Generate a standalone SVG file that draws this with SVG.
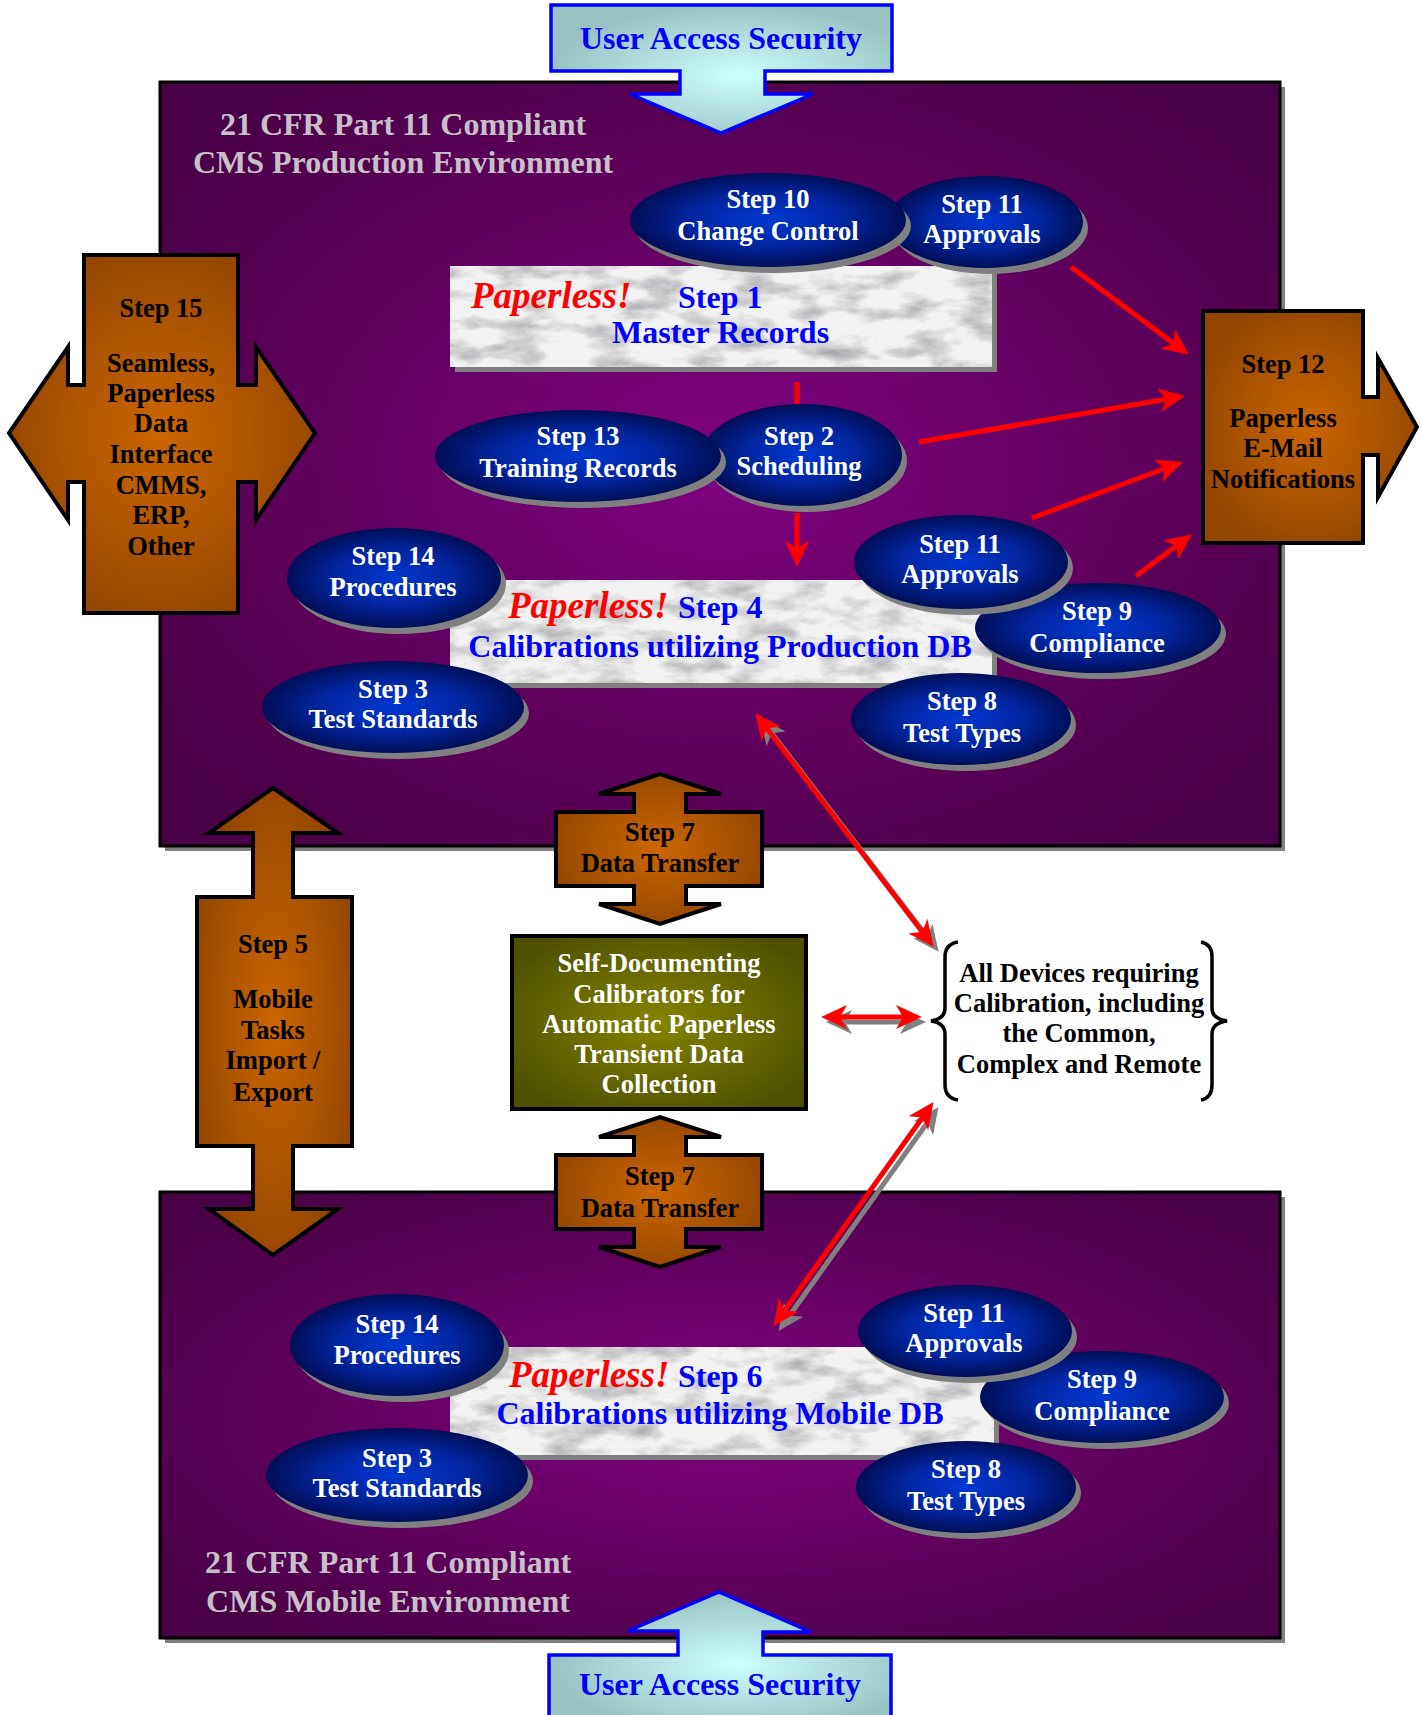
<svg xmlns="http://www.w3.org/2000/svg" width="1422" height="1715" viewBox="0 0 1422 1715">
<style>
.t{font-family:"Liberation Serif","Times New Roman",serif;font-weight:bold;text-anchor:middle}
.w{fill:#FFFFFF;font-size:26.5px}
.k{fill:#000000;font-size:26.5px}
.ttl{fill:#C8C0C8;font-size:32px}
.bl{fill:#0000FF;font-size:32px}
.rd{fill:#FF0000;font-size:37px;font-style:italic}
.ell{fill:url(#blueG)}
.sh{fill:#808080}
.org{fill:url(#orangeG);stroke:#000;stroke-width:4;stroke-linejoin:miter}
.panel{fill:url(#purpleG);stroke:#000;stroke-width:3}
.uas{fill:url(#cyanG);stroke:#0000FF;stroke-width:3.5}
.marble{filter:url(#marble)}
.conn{stroke:#FF0000;stroke-width:5;fill:none}
.connsh{stroke:#808080;stroke-width:5;fill:none}
.brace{stroke:#000;stroke-width:3.5;fill:none}
</style>
<defs>
<radialGradient id="blueG" cx="0.5" cy="0.5" r="0.5">
<stop offset="0" stop-color="#0038D2"/>
<stop offset="0.55" stop-color="#0026A0"/>
<stop offset="1" stop-color="#000F58"/>
</radialGradient>
<radialGradient id="purpleG" cx="0.5" cy="0.5" r="0.62">
<stop offset="0" stop-color="#800080"/>
<stop offset="1" stop-color="#4A0046"/>
</radialGradient>
<radialGradient id="orangeG" cx="0.5" cy="0.5" r="0.55">
<stop offset="0" stop-color="#CC6600"/>
<stop offset="1" stop-color="#934600"/>
</radialGradient>
<radialGradient id="greenG" cx="0.5" cy="0.5" r="0.6">
<stop offset="0" stop-color="#848400"/>
<stop offset="1" stop-color="#4E5000"/>
</radialGradient>
<radialGradient id="cyanG" cx="0.55" cy="0.55" r="0.55">
<stop offset="0" stop-color="#CCFFFF"/>
<stop offset="1" stop-color="#99C2C2"/>
</radialGradient>
<filter id="marble" x="0" y="0" width="1" height="1" filterUnits="objectBoundingBox" color-interpolation-filters="sRGB">
<feTurbulence type="fractalNoise" baseFrequency="0.022 0.05" numOctaves="5" seed="11" result="t"/>
<feColorMatrix in="t" type="matrix" values="0 0 0 0 0.5  0 0 0 0 0.5  0 0 0 0 0.52  1.4 0 0 0 -0.62" result="veins"/>
<feFlood flood-color="#F2F2F2" result="bg"/>
<feComposite in="veins" in2="bg" operator="over"/>
</filter>
<marker id="ah" viewBox="0 0 26 24" refX="20" refY="12" markerWidth="26" markerHeight="24" markerUnits="userSpaceOnUse" orient="auto-start-reverse">
<path d="M0,0 L26,12 L0,24 L7,12 Z" fill="#FF0000"/>
</marker>
<marker id="ahs" viewBox="0 0 26 24" refX="20" refY="12" markerWidth="26" markerHeight="24" markerUnits="userSpaceOnUse" orient="auto-start-reverse">
<path d="M0,0 L26,12 L0,24 L7,12 Z" fill="#808080"/>
</marker>
</defs>

<rect width="1422" height="1715" fill="#FFFFFF"/>

<g id="production-panel">
<rect class="sh" x="165" y="87" width="1120" height="764"/>
<rect class="panel" x="160" y="82" width="1120" height="764"/>
<text class="t ttl" x="403" y="135">21 CFR Part 11 Compliant</text>
<text class="t ttl" x="403" y="173">CMS Production Environment</text>
</g>

<g id="mobile-panel">
<rect class="sh" x="165" y="1197" width="1120" height="446"/>
<rect class="panel" x="160" y="1192" width="1120" height="446"/>
<text class="t ttl" x="388" y="1573">21 CFR Part 11 Compliant</text>
<text class="t ttl" x="388" y="1612">CMS Mobile Environment</text>
</g>

<g id="user-access-top">
<path class="uas" d="M551,5 H892 V71 H765 V94 H813 L721,133 L630,94 H680 V71 H551 Z"/>
<text class="t bl" x="721" y="49">User Access Security</text>
</g>

<g id="user-access-bottom">
<path class="uas" d="M549,1722 V1655 H678 V1631 H628 L719,1592 L811,1632 H763 V1655 H891 V1722 Z"/>
<text class="t bl" x="720" y="1695">User Access Security</text>
</g>

<g id="step1">
<rect class="sh" x="455" y="271" width="542" height="101"/>
<rect class="marble" x="450" y="266" width="542" height="101"/>
<text class="t rd" x="471" y="308" style="text-anchor:start">Paperless!</text>
<text class="t bl" x="678" y="308" style="text-anchor:start">Step 1</text>
<text class="t bl" x="612" y="343" style="text-anchor:start">Master Records</text>
</g>

<g id="step11-top">
<ellipse class="sh" cx="990" cy="228" rx="98" ry="46"/>
<ellipse class="ell" cx="985" cy="222" rx="98" ry="46"/>
<text class="t w" x="982" y="213">Step 11</text>
<text class="t w" x="982" y="243">Approvals</text>
</g>

<g id="step10">
<ellipse class="sh" cx="773" cy="226" rx="138" ry="47"/>
<ellipse class="ell" cx="768" cy="220" rx="138" ry="47"/>
<text class="t w" x="768" y="208">Step 10</text>
<text class="t w" x="768" y="240">Change Control</text>
</g>

<g id="step2">
<ellipse class="sh" cx="807" cy="461" rx="100" ry="51"/>
<ellipse class="ell" cx="802" cy="455" rx="100" ry="51"/>
<text class="t w" x="799" y="445">Step 2</text>
<text class="t w" x="799" y="475">Scheduling</text>
</g>

<g id="step13">
<ellipse class="sh" cx="583" cy="462" rx="143" ry="46"/>
<ellipse class="ell" cx="578" cy="456" rx="143" ry="46"/>
<text class="t w" x="578" y="445">Step 13</text>
<text class="t w" x="578" y="477">Training Records</text>
</g>

<g id="step4">
<rect class="sh" x="455" y="585" width="542" height="103"/>
<rect class="marble" x="450" y="580" width="542" height="103"/>
<text class="t rd" x="508" y="618" style="text-anchor:start">Paperless!</text>
<text class="t bl" x="678" y="618" style="text-anchor:start">Step 4</text>
<text class="t bl" x="720" y="657">Calibrations utilizing Production DB</text>
</g>

<g id="step14-top">
<ellipse class="sh" cx="399" cy="584" rx="107" ry="50"/>
<ellipse class="ell" cx="394" cy="578" rx="107" ry="50"/>
<text class="t w" x="393" y="565">Step 14</text>
<text class="t w" x="393" y="596">Procedures</text>
</g>

<g id="step3-top">
<ellipse class="sh" cx="398" cy="713" rx="131" ry="46"/>
<ellipse class="ell" cx="393" cy="707" rx="131" ry="46"/>
<text class="t w" x="393" y="698">Step 3</text>
<text class="t w" x="393" y="728">Test Standards</text>
</g>

<g id="step8-top">
<ellipse class="sh" cx="966" cy="725" rx="110" ry="46"/>
<ellipse class="ell" cx="961" cy="719" rx="110" ry="46"/>
<text class="t w" x="962" y="710">Step 8</text>
<text class="t w" x="962" y="742">Test Types</text>
</g>

<g id="step9-top">
<ellipse class="sh" cx="1103" cy="634" rx="123" ry="45"/>
<ellipse class="ell" cx="1098" cy="628" rx="123" ry="45"/>
<text class="t w" x="1097" y="620">Step 9</text>
<text class="t w" x="1097" y="652">Compliance</text>
</g>

<g id="step11-mid">
<ellipse class="sh" cx="966" cy="568" rx="107" ry="47"/>
<ellipse class="ell" cx="961" cy="562" rx="107" ry="47"/>
<text class="t w" x="960" y="553">Step 11</text>
<text class="t w" x="960" y="583">Approvals</text>
</g>

<g id="step15">
<path class="org" d="M84,255 H238 V385 H256 V347 L315,433 L256,520 V482 H238 V613 H84 V482 H68 V520 L9,433 L68,347 V385 H84 Z"/>
<text class="t k" x="161" y="317">Step 15</text>
<text class="t k" x="161" y="372">Seamless,</text>
<text class="t k" x="161" y="402">Paperless</text>
<text class="t k" x="161" y="432">Data</text>
<text class="t k" x="161" y="463">Interface</text>
<text class="t k" x="161" y="494">CMMS,</text>
<text class="t k" x="161" y="524">ERP,</text>
<text class="t k" x="161" y="555">Other</text>
</g>

<g id="step12">
<path class="org" d="M1203,311 H1363 V397 H1378 V358 L1417,427 L1378,497 V455 H1363 V543 H1203 Z"/>
<text class="t k" x="1283" y="373">Step 12</text>
<text class="t k" x="1283" y="427">Paperless</text>
<text class="t k" x="1283" y="457">E-Mail</text>
<text class="t k" x="1283" y="488">Notifications</text>
</g>

<g id="step5">
<path class="org" d="M197,897 H253 V833 H209 L273,788 L338,833 H293 V897 H352 V1146 H293 V1209 H338 L273,1255 L209,1209 H253 V1146 H197 Z"/>
<text class="t k" x="273" y="953">Step 5</text>
<text class="t k" x="273" y="1008">Mobile</text>
<text class="t k" x="273" y="1039">Tasks</text>
<text class="t k" x="273" y="1069">Import /</text>
<text class="t k" x="273" y="1101">Export</text>
</g>

<g id="step7-top">
<path class="org" d="M556,812 H634 V794 H599 L660,774 L721,794 H686 V812 H762 V886 H686 V904 H721 L660,924 L599,904 H634 V886 H556 Z"/>
<text class="t k" x="660" y="841">Step 7</text>
<text class="t k" x="660" y="872">Data Transfer</text>
</g>

<g id="calibrators">
<rect x="512" y="936" width="294" height="173" fill="url(#greenG)" stroke="#000" stroke-width="4"/>
<text class="t w" x="659" y="972">Self-Documenting</text>
<text class="t w" x="659" y="1003">Calibrators for</text>
<text class="t w" x="659" y="1033">Automatic Paperless</text>
<text class="t w" x="659" y="1063">Transient Data</text>
<text class="t w" x="659" y="1093">Collection</text>
</g>

<g id="step7-bottom">
<path class="org" d="M556,1155 H634 V1137 H599 L660,1117 L721,1137 H686 V1155 H762 V1229 H686 V1247 H721 L660,1267 L599,1247 H634 V1229 H556 Z"/>
<text class="t k" x="660" y="1185">Step 7</text>
<text class="t k" x="660" y="1217">Data Transfer</text>
</g>

<g id="all-devices">
<path class="brace" d="M958,942 Q945,944 945,957 V1008 Q945,1019 931,1021 Q945,1023 945,1034 V1085 Q945,1098 958,1100"/>
<path class="brace" d="M1201,942 Q1212,944 1212,957 V1008 Q1212,1019 1227,1021 Q1212,1023 1212,1034 V1085 Q1212,1098 1201,1100"/>
<text class="t k" x="1079" y="982">All Devices requiring</text>
<text class="t k" x="1079" y="1012">Calibration, including</text>
<text class="t k" x="1079" y="1042">the Common,</text>
<text class="t k" x="1079" y="1073">Complex and Remote</text>
</g>

<g id="step6">
<rect class="sh" x="455" y="1352" width="544" height="108"/>
<rect class="marble" x="450" y="1347" width="544" height="108"/>
<text class="t rd" x="509" y="1387" style="text-anchor:start">Paperless!</text>
<text class="t bl" x="678" y="1387" style="text-anchor:start">Step 6</text>
<text class="t bl" x="720" y="1424">Calibrations utilizing Mobile DB</text>
</g>

<g id="step14-bottom">
<ellipse class="sh" cx="402" cy="1351" rx="107" ry="51"/>
<ellipse class="ell" cx="397" cy="1345" rx="107" ry="51"/>
<text class="t w" x="397" y="1333">Step 14</text>
<text class="t w" x="397" y="1364">Procedures</text>
</g>

<g id="step3-bottom">
<ellipse class="sh" cx="402" cy="1481" rx="131" ry="47"/>
<ellipse class="ell" cx="397" cy="1475" rx="131" ry="47"/>
<text class="t w" x="397" y="1467">Step 3</text>
<text class="t w" x="397" y="1497">Test Standards</text>
</g>

<g id="step8-bottom">
<ellipse class="sh" cx="971" cy="1493" rx="110" ry="46"/>
<ellipse class="ell" cx="966" cy="1487" rx="110" ry="46"/>
<text class="t w" x="966" y="1478">Step 8</text>
<text class="t w" x="966" y="1510">Test Types</text>
</g>

<g id="step9-bottom">
<ellipse class="sh" cx="1107" cy="1403" rx="122" ry="46"/>
<ellipse class="ell" cx="1102" cy="1397" rx="122" ry="46"/>
<text class="t w" x="1102" y="1388">Step 9</text>
<text class="t w" x="1102" y="1420">Compliance</text>
</g>

<g id="step11-bottom">
<ellipse class="sh" cx="970" cy="1337" rx="107" ry="46"/>
<ellipse class="ell" cx="965" cy="1331" rx="107" ry="46"/>
<text class="t w" x="964" y="1322">Step 11</text>
<text class="t w" x="964" y="1352">Approvals</text>
</g>

<g id="connectors">
<line class="conn" x1="797" y1="382" x2="797" y2="404"/>
<line class="conn" x1="797" y1="513" x2="797" y2="561" marker-end="url(#ah)"/>
<line class="conn" x1="1071" y1="267" x2="1184" y2="351" marker-end="url(#ah)"/>
<line class="conn" x1="919" y1="442" x2="1179" y2="397" marker-end="url(#ah)"/>
<line class="conn" x1="1032" y1="518" x2="1177" y2="464" marker-end="url(#ah)"/>
<line class="conn" x1="1136" y1="576" x2="1187" y2="538" marker-end="url(#ah)"/>
<line class="connsh" x1="764" y1="723" x2="935" y2="947" marker-start="url(#ahs)" marker-end="url(#ahs)"/>
<line class="conn" x1="759" y1="718" x2="930" y2="942" marker-start="url(#ah)" marker-end="url(#ah)"/>
<line class="connsh" x1="832" y1="1022" x2="920" y2="1022" marker-start="url(#ahs)" marker-end="url(#ahs)"/>
<line class="conn" x1="827" y1="1017" x2="916" y2="1017" marker-start="url(#ah)" marker-end="url(#ah)"/>
<line class="connsh" x1="935" y1="1112" x2="782" y2="1326" marker-start="url(#ahs)" marker-end="url(#ahs)"/>
<line class="conn" x1="930" y1="1107" x2="777" y2="1321" marker-start="url(#ah)" marker-end="url(#ah)"/>
</g>
</svg>
